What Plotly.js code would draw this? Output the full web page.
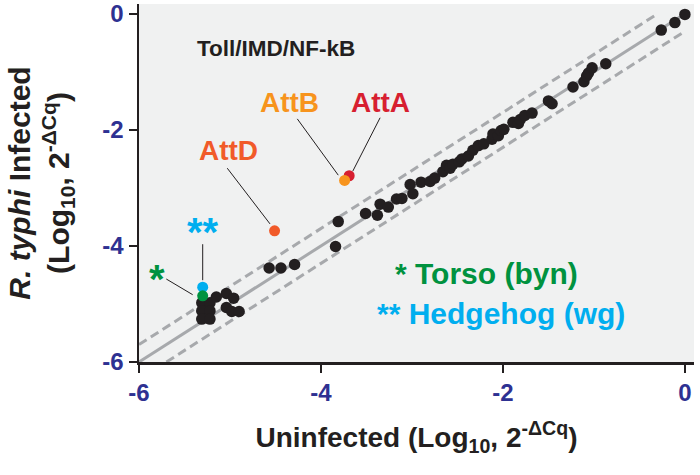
<!DOCTYPE html>
<html>
<head>
<meta charset="utf-8">
<script src="https://cdn.plot.ly/plotly-3.0.1.min.js"></script>
<style>html,body{margin:0;padding:0;background:#fff;}#chart{width:700px;height:475px;}</style>
</head>
<body>
<div id="chart"></div>
<script>
// ---- data (log10 2^-ΔCq) ----
const geneX = [-5.31,-5.31,-5.31,-5.22,-5.22,-5.22,-5.15,-5.04,-4.96,-5.04,-4.98,-4.90,
  -4.57,-4.44,-4.29,-3.81,-3.84,
  -3.51,-3.38,-3.35,-3.26,-3.17,-3.11,-3.02,-2.99,-2.90,-2.80,-2.75,-2.66,
  -2.62,-2.58,-2.55,-2.48,-2.45,-2.38,-2.33,-2.27,-2.21,-2.12,-2.11,-2.05,-2.02,-1.99,
  -1.89,-1.83,-1.81,-1.76,-1.68,-1.50,-1.46,
  -1.23,-1.11,-1.08,-1.06,-1.02,-0.87,-0.26,-0.11,0.00];
const geneY = [-4.98,-5.12,-5.26,-4.98,-5.12,-5.26,-4.88,-4.82,-4.90,-5.06,-5.13,-5.13,
  -4.38,-4.38,-4.32,-3.58,-4.01,
  -3.44,-3.47,-3.28,-3.33,-3.19,-3.18,-2.94,-3.10,-2.90,-2.89,-2.83,-2.72,
  -2.61,-2.66,-2.59,-2.55,-2.50,-2.45,-2.35,-2.27,-2.24,-2.16,-2.07,-2.10,-2.01,-1.99,
  -1.87,-1.89,-1.82,-1.75,-1.71,-1.50,-1.55,
  -1.26,-1.17,-1.07,-1.02,-0.93,-0.86,-0.28,-0.15,-0.01];

const hiNames  = ["AttA", "AttB", "AttD", "Hedgehog (wg)", "Torso (byn)"];
const hiX      = [-3.69, -3.74, -4.51, -5.30, -5.30];
const hiY      = [-2.79, -2.87, -3.74, -4.71, -4.86];
const hiColors = ["#d71f30", "#f7941d", "#f15a29", "#00aeef", "#00923f"];

const tickVals = [-6, -4, -2, 0];
const tickText = ["-6", "-4", "-2", "0"];
const FOLD = Math.log10(2);   // two-fold change guide lines
const AXMIN = -6, AXMAX = 0;

const FONT = "Liberation Sans, Arial, Helvetica, sans-serif";
const INK = "#231f20";
const TICKC = "#2e3192";
const GUIDE = "#a7a9ac";

const traces = [
  {x:[AXMIN, AXMAX], y:[AXMIN, AXMAX], mode:"lines", line:{color:GUIDE, width:3}, hoverinfo:"skip"},
  {x:[AXMIN, AXMAX-FOLD], y:[AXMIN+FOLD, AXMAX], mode:"lines", line:{color:GUIDE, width:3, dash:"9px,5px"}, hoverinfo:"skip"},
  {x:[AXMIN+FOLD, AXMAX], y:[AXMIN, AXMAX-FOLD], mode:"lines", line:{color:GUIDE, width:3, dash:"9px,5px"}, hoverinfo:"skip"},
  {x:geneX, y:geneY, mode:"markers", marker:{color:INK, size:11.5, line:{width:0}}},
  {x:hiX, y:hiY, text:hiNames, mode:"markers", marker:{color:hiColors, size:11, line:{width:0}}}
];

function ann(text, x, y, color, size, xanchor){
  return {text:text, x:x, y:y, xref:"x", yref:"y", showarrow:false, xanchor:xanchor||"center", yanchor:"middle",
          font:{family:FONT, size:size, color:color, weight:"bold"}};
}
function leader(x0,y0,x1,y1){
  return {type:"line", xref:"x", yref:"y", x0:x0, y0:y0, x1:x1, y1:y1, line:{color:INK, width:1}};
}

const layout = {
  width:700, height:475,
  margin:{l:139, r:6, t:4, b:113},
  paper_bgcolor:"#ffffff", plot_bgcolor:"#f0f1f1",
  showlegend:false,
  font:{family:FONT},
  xaxis:{range:[-6, 0.1], showgrid:false, zeroline:false, showline:true, linecolor:INK, linewidth:2.5,
         ticks:"outside", ticklen:8, tickwidth:2.5, tickcolor:INK, tickvals:tickVals, ticktext:tickText,
         tickfont:{family:FONT, size:24, color:TICKC, weight:"bold"},
         title:{text:"Uninfected (Log<sub>10</sub>, 2<sup>-ΔCq</sup>)", standoff:22, font:{family:FONT, size:28, color:INK, weight:"bold"}}},
  yaxis:{range:[-6, 0.17], showgrid:false, zeroline:false, showline:true, linecolor:INK, linewidth:2.5,
         ticks:"outside", ticklen:8, tickwidth:2.5, tickcolor:INK, tickvals:tickVals, ticktext:tickText,
         tickfont:{family:FONT, size:24, color:TICKC, weight:"bold"},
         title:{text:"<i>R. typhi</i> Infected<br>(Log<sub>10</sub>, 2<sup>-ΔCq</sup>)", standoff:24, font:{family:FONT, size:30, color:INK, weight:"bold"}}},
  annotations:[
    ann("Toll/IMD/NF-kB", -4.49, -0.60, INK, 22.5),
    ann("AttB", -4.35, -1.53, hiColors[1], 28),
    ann("AttA", -3.35, -1.52, hiColors[0], 28),
    ann("AttD", -5.02, -2.36, hiColors[2], 28),
    ann("**", -5.30, -3.76, hiColors[3], 40),
    ann("*", -5.80, -4.57, hiColors[4], 40),
    ann("* Torso (byn)", -3.21, -4.48, hiColors[4], 30, "left"),
    ann("** Hedgehog (wg)", -3.41, -5.16, hiColors[3], 30, "left")
  ],
  shapes:[
    leader(-4.26,-1.81,-3.81,-2.78),
    leader(-3.35,-1.79,-3.65,-2.71),
    leader(-5.03,-2.66,-4.56,-3.62),
    leader(-5.30,-3.97,-5.30,-4.59),
    leader(-5.70,-4.57,-5.41,-4.84)
  ]
};

Plotly.newPlot("chart", traces, layout, {displayModeBar:false, staticPlot:true});
</script>
</body>
</html>
